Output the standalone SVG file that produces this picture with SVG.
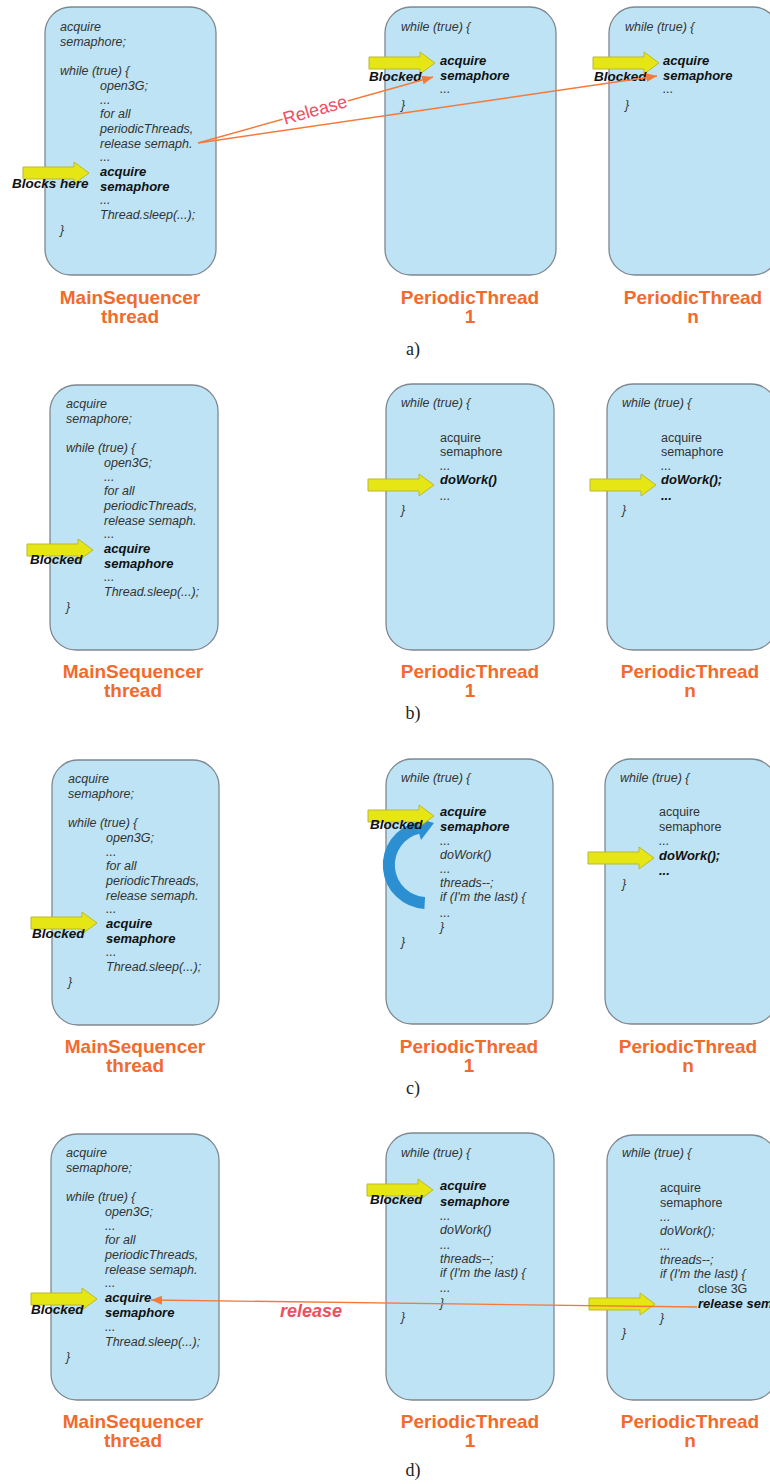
<svg xmlns="http://www.w3.org/2000/svg" xmlns:xlink="http://www.w3.org/1999/xlink" width="770" height="1484" viewBox="0 0 770 1484">
<style>
.box{fill:#bde3f5;stroke:#7f8890;stroke-width:1.3}
.code{font-family:"Liberation Sans",Arial,sans-serif;font-size:12.5px;font-style:italic;fill:#333}
.up{font-style:normal}
.b{font-weight:bold;fill:#111;font-size:13px}
.blk{font-family:"Liberation Sans",Arial,sans-serif;font-size:13.5px;font-weight:bold;font-style:italic;fill:#111}
.lbl{font-family:"Liberation Sans",Arial,sans-serif;font-size:19px;font-weight:bold;fill:#f26a2c;text-anchor:middle}
.cap{font-family:"Liberation Serif","Times New Roman",serif;font-size:18px;fill:#222;text-anchor:middle}
.ya{fill:#e6e614;stroke:#b9b932;stroke-width:1}
.conn{stroke:#f47a3a;stroke-width:1.4;fill:none}
.rel{font-family:"Liberation Sans",Arial,sans-serif;font-size:18px;fill:#ef4f5f;stroke:#fff;stroke-width:4;paint-order:stroke;stroke-linejoin:round}
.relb{font-family:"Liberation Sans",Arial,sans-serif;font-size:18px;font-weight:bold;font-style:italic;fill:#ef4f5f}
</style>
<defs>
<path id="yarrow" class="ya" d="M-66,-6 H-15 V-11 L0,0 L-15,11 V6 H-66 Z"/>
<marker id="oh" markerUnits="userSpaceOnUse" markerWidth="12" markerHeight="9" refX="11" refY="4.5" orient="auto">
<path d="M0,0 L11,4.5 L0,9 Z" fill="#f47a3a"/>
</marker>
</defs>
<rect width="770" height="1484" fill="#fff"/>

<!-- Panel a -->
<g id="a-main">
<rect class="box" x="45" y="7" width="171" height="268" rx="26"/>
<g transform="translate(60,7)" class="code">
<text y="24">acquire</text><text y="39">semaphore;</text>
<text y="68">while (true) {</text>
<text x="40" y="83">open3G;</text><text x="40" y="97">...</text>
<text x="40" y="111">for all</text><text x="40" y="126">periodicThreads,</text>
<text x="40" y="141">release semaph.</text><text x="40" y="154">...</text>
<text x="40" y="169" class="b">acquire</text><text x="40" y="184" class="b">semaphore</text>
<text x="40" y="197">...</text><text x="40" y="212">Thread.sleep(...);</text>
<text y="227">}</text>
</g>
<use xlink:href="#yarrow" x="89" y="173"/>
<text class="blk" x="12" y="188">Blocks here</text>
<text class="lbl" x="130" y="304">MainSequencer</text>
<text class="lbl" x="130" y="323">thread</text>
</g>
<g id="a-p1">
<rect class="box" x="385" y="7" width="171" height="268" rx="26"/>
<g class="code">
<text x="401" y="31">while (true) {</text>
<text x="440" y="65" class="b">acquire</text><text x="440" y="80" class="b">semaphore</text>
<text x="440" y="93">...</text><text x="401" y="109">}</text>
</g>
<use xlink:href="#yarrow" x="435" y="63"/>
<text class="blk" x="369" y="81">Blocked</text>
<text class="lbl" x="470" y="304">PeriodicThread</text>
<text class="lbl" x="470" y="323">1</text>
</g>
<g id="a-pn">
<rect class="box" x="609" y="7" width="170" height="268" rx="26"/>
<g class="code">
<text x="625" y="31">while (true) {</text>
<text x="663" y="65" class="b">acquire</text><text x="663" y="80" class="b">semaphore</text>
<text x="663" y="93">...</text><text x="625" y="109">}</text>
</g>
<use xlink:href="#yarrow" x="659" y="63"/>
<text class="blk" x="594" y="81">Blocked</text>
<text class="lbl" x="693" y="304">PeriodicThread</text>
<text class="lbl" x="693" y="323">n</text>
</g>
<g id="a-connectors">
<path class="conn" d="M198,143 L433,77" marker-end="url(#oh)"/>
<path class="conn" d="M198,143 L657,76" marker-end="url(#oh)"/>
<text class="rel" x="315" y="116" text-anchor="middle" transform="rotate(-16 315 110)">Release</text>
</g>
<text class="cap" x="413" y="355">a)</text>

<!-- Panel b -->
<g id="b-main">
<rect class="box" x="50" y="385" width="168" height="265" rx="26"/>
<g transform="translate(66,384)" class="code">
<text y="24">acquire</text><text y="39">semaphore;</text>
<text y="68">while (true) {</text>
<text x="38" y="83">open3G;</text><text x="38" y="97">...</text>
<text x="38" y="111">for all</text><text x="38" y="126">periodicThreads,</text>
<text x="38" y="141">release semaph.</text><text x="38" y="154">...</text>
<text x="38" y="169" class="b">acquire</text><text x="38" y="184" class="b">semaphore</text>
<text x="38" y="197">...</text><text x="38" y="212">Thread.sleep(...);</text>
<text y="227">}</text>
</g>
<use xlink:href="#yarrow" x="93" y="550"/>
<text class="blk" x="30" y="564">Blocked</text>
<text class="lbl" x="133" y="678">MainSequencer</text>
<text class="lbl" x="133" y="697">thread</text>
</g>
<g id="b-p1">
<rect class="box" x="386" y="384" width="168" height="266" rx="26"/>
<g class="code">
<text x="401" y="407">while (true) {</text>
<text x="440" y="442" class="up">acquire</text><text x="440" y="456" class="up">semaphore</text>
<text x="440" y="470">...</text>
<text x="440" y="484" class="b">doWork()</text>
<text x="440" y="500">...</text><text x="401" y="514">}</text>
</g>
<use xlink:href="#yarrow" x="434" y="485"/>
<text class="lbl" x="470" y="678">PeriodicThread</text>
<text class="lbl" x="470" y="697">1</text>
</g>
<g id="b-pn">
<rect class="box" x="607" y="384" width="170" height="266" rx="26"/>
<g class="code">
<text x="622" y="407">while (true) {</text>
<text x="661" y="442" class="up">acquire</text><text x="661" y="456" class="up">semaphore</text>
<text x="661" y="470">...</text>
<text x="661" y="484" class="b">doWork();</text>
<text x="661" y="500" class="b">...</text><text x="622" y="514">}</text>
</g>
<use xlink:href="#yarrow" x="656" y="485"/>
<text class="lbl" x="690" y="678">PeriodicThread</text>
<text class="lbl" x="690" y="697">n</text>
</g>
<text class="cap" x="413" y="719">b)</text>

<!-- Panel c -->
<g id="c-main">
<rect class="box" x="52" y="760" width="167" height="265" rx="26"/>
<g transform="translate(68,759)" class="code">
<text y="24">acquire</text><text y="39">semaphore;</text>
<text y="68">while (true) {</text>
<text x="38" y="83">open3G;</text><text x="38" y="97">...</text>
<text x="38" y="111">for all</text><text x="38" y="126">periodicThreads,</text>
<text x="38" y="141">release semaph.</text><text x="38" y="154">...</text>
<text x="38" y="169" class="b">acquire</text><text x="38" y="184" class="b">semaphore</text>
<text x="38" y="197">...</text><text x="38" y="212">Thread.sleep(...);</text>
<text y="227">}</text>
</g>
<use xlink:href="#yarrow" x="97" y="923"/>
<text class="blk" x="32" y="938">Blocked</text>
<text class="lbl" x="135" y="1053">MainSequencer</text>
<text class="lbl" x="135" y="1072">thread</text>
</g>
<g id="c-p1">
<rect class="box" x="386" y="759" width="167" height="265" rx="26"/>
<g class="code">
<text x="401" y="782">while (true) {</text>
<text x="440" y="816" class="b">acquire</text><text x="440" y="831" class="b">semaphore</text>
<text x="440" y="845">...</text>
<text x="440" y="859">doWork()</text>
<text x="440" y="873">...</text>
<text x="440" y="887">threads--;</text>
<text x="440" y="901">if (I'm the last) {</text>
<text x="440" y="917">...</text>
<text x="440" y="931">}</text>
<text x="401" y="946">}</text>
</g>
<g id="c-loop">
<path d="M424.7,902.9 A38,38 0 0 1 418,828" fill="none" stroke="#2b8fd2" stroke-width="12"/>
<path d="M434,823 L414.5,817.5 L421,840 Z" fill="#2b8fd2"/>
</g>
<use xlink:href="#yarrow" x="434" y="816"/>
<text class="blk" x="370" y="829">Blocked</text>
<text class="lbl" x="469" y="1053">PeriodicThread</text>
<text class="lbl" x="469" y="1072">1</text>
</g>
<g id="c-pn">
<rect class="box" x="605" y="759" width="172" height="265" rx="26"/>
<g class="code">
<text x="620" y="782">while (true) {</text>
<text x="659" y="816" class="up">acquire</text><text x="659" y="831" class="up">semaphore</text>
<text x="659" y="845">...</text>
<text x="659" y="860" class="b">doWork();</text>
<text x="659" y="875" class="b">...</text><text x="622" y="888">}</text>
</g>
<use xlink:href="#yarrow" x="654" y="858"/>
<text class="lbl" x="688" y="1053">PeriodicThread</text>
<text class="lbl" x="688" y="1072">n</text>
</g>
<text class="cap" x="413" y="1094">c)</text>

<!-- Panel d -->
<g id="d-main">
<rect class="box" x="51" y="1134" width="168" height="266" rx="26"/>
<g transform="translate(66,1134)" class="code">
<text y="23">acquire</text><text y="38">semaphore;</text>
<text y="67">while (true) {</text>
<text x="39" y="82">open3G;</text><text x="39" y="96">...</text>
<text x="39" y="110">for all</text><text x="39" y="125">periodicThreads,</text>
<text x="39" y="140">release semaph.</text><text x="39" y="153">...</text>
<text x="39" y="168" class="b">acquire</text><text x="39" y="183" class="b">semaphore</text>
<text x="39" y="197">...</text><text x="39" y="212">Thread.sleep(...);</text>
<text y="227">}</text>
</g>
<use xlink:href="#yarrow" x="97" y="1299"/>
<text class="blk" x="31" y="1314">Blocked</text>
<text class="lbl" x="133" y="1428">MainSequencer</text>
<text class="lbl" x="133" y="1447">thread</text>
</g>
<g id="d-p1">
<rect class="box" x="386" y="1133" width="168" height="267" rx="26"/>
<g class="code">
<text x="401" y="1157">while (true) {</text>
<text x="440" y="1190" class="b">acquire</text><text x="440" y="1206" class="b">semaphore</text>
<text x="440" y="1220">...</text>
<text x="440" y="1234">doWork()</text>
<text x="440" y="1249">...</text>
<text x="440" y="1263">threads--;</text>
<text x="440" y="1277">if (I'm the last) {</text>
<text x="440" y="1292">...</text>
<text x="440" y="1307">}</text>
<text x="401" y="1321">}</text>
</g>
<use xlink:href="#yarrow" x="433" y="1190"/>
<text class="blk" x="370" y="1204">Blocked</text>
<text class="lbl" x="470" y="1428">PeriodicThread</text>
<text class="lbl" x="470" y="1447">1</text>
</g>
<g id="d-pn">
<rect class="box" x="607" y="1135" width="170" height="265" rx="26"/>
<g class="code">
<text x="622" y="1157">while (true) {</text>
<text x="660" y="1192" class="up">acquire</text><text x="660" y="1207" class="up">semaphore</text>
<text x="660" y="1221">...</text>
<text x="660" y="1235">doWork();</text>
<text x="660" y="1250">...</text>
<text x="660" y="1264">threads--;</text>
<text x="660" y="1278">if (I'm the last) {</text>
<text x="698" y="1293" class="up">close 3G</text>
<text x="698" y="1308" class="b">release sem</text>
<text x="660" y="1322">}</text>
<text x="622" y="1337">}</text>
</g>
<use xlink:href="#yarrow" x="655" y="1304"/>
<text class="lbl" x="690" y="1428">PeriodicThread</text>
<text class="lbl" x="690" y="1447">n</text>
</g>
<g id="d-connectors">
<path class="conn" d="M697,1307 L151,1300" marker-end="url(#oh)"/>
<text class="relb" x="280" y="1317">release</text>
</g>
<text class="cap" x="413" y="1476">d)</text>
</svg>
